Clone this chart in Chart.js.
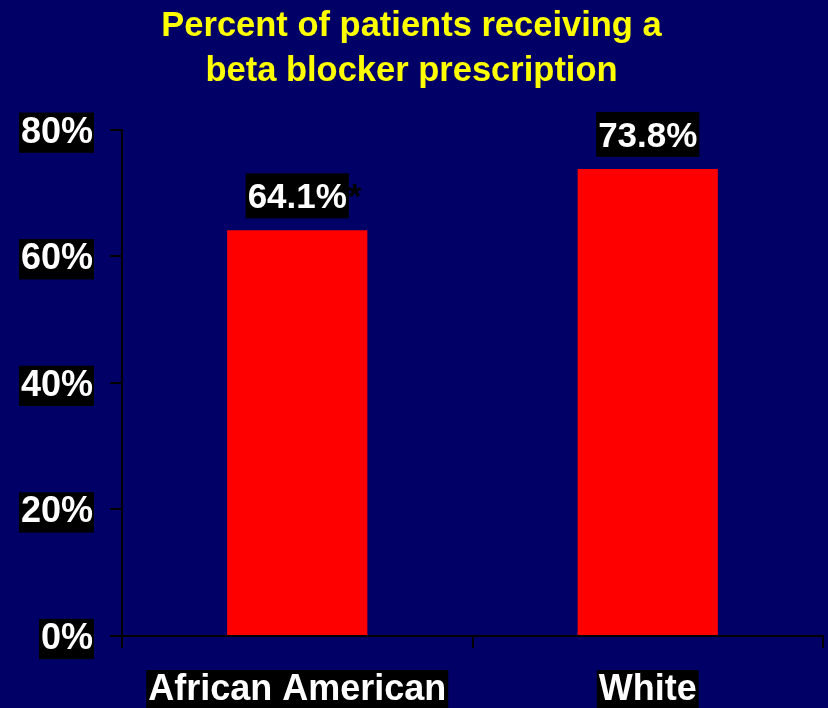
<!DOCTYPE html>
<html>
<head>
<meta charset="utf-8">
<script src="https://cdn.jsdelivr.net/npm/chart.js@4.4.1/dist/chart.umd.min.js"></script>
<style>
html, body { margin: 0; padding: 0; background: #000066; }
#wrap { width: 828px; height: 708px; position: relative; }
</style>
</head>
<body>
<div id="wrap"><canvas id="barChart"></canvas></div>
<script>
var categories = ['African American', 'White'];
var percents = [64.1, 73.8];
var significance = ['*', ''];
var yTicks = [0, 20, 40, 60, 80];
var titleLines = ['Percent of patients receiving a', 'beta blocker prescription'];

var FAMILY = '"Liberation Sans", Arial, sans-serif';
var labelFont = { family: FAMILY, size: 36, weight: 'bold', lineHeight: 1.12 };

function $id(id) { return document.getElementById(id); }

// black box with the white value above each bar
var valueBoxes = {
    id: 'valueBoxes',
    afterDatasetsDraw: function (chart) {
        var ctx = chart.ctx;
        var meta = chart.getDatasetMeta(0);
        ctx.save();
        ctx.font = 'bold 35px ' + FAMILY;
        ctx.textBaseline = 'alphabetic';
        meta.data.forEach(function (bar, i) {
            var txt = percents[i].toFixed(1) + '%';
            var w = ctx.measureText(txt).width + 4;
            var bottom = bar.y - 12;
            var h = 45;
            ctx.fillStyle = '#000';
            ctx.fillRect(bar.x - w / 2, bottom - h, w, h);
            ctx.textAlign = 'center';
            ctx.fillStyle = '#fff';
            ctx.fillText(txt, bar.x, bottom - 10);
            if (significance[i]) {
                ctx.textAlign = 'left';
                ctx.fillStyle = '#000';
                ctx.fillText(significance[i], bar.x + w / 2 - 1, bottom - 10);
            }
        });
        ctx.restore();
    }
};

var barCanvas = $id('barChart').getContext('2d');

var barChart = new Chart(barCanvas, {
    type: 'bar',
    data: {
        labels: categories,
        datasets: [{
            data: percents,
            backgroundColor: '#ff0000',
            borderWidth: 0,
            barPercentage: 0.4,
            categoryPercentage: 1.0
        }]
    },
    options: {
        responsive: true,
        maintainAspectRatio: false,
        animation: false,
        layout: { padding: { left: 0, right: 5, top: 0, bottom: 0 } },
        plugins: {
            legend: { display: false },
            tooltip: { enabled: false },
            title: {
                display: true,
                text: titleLines,
                color: '#ffff00',
                font: { family: FAMILY, size: 34.5, weight: 'bold', lineHeight: 1.3 },
                padding: { top: 4, bottom: 36 }
            }
        },
        scales: {
            x: {
                grid: {
                    display: true, drawOnChartArea: false, drawTicks: true,
                    tickLength: 12, color: '#000', lineWidth: 2, offset: true
                },
                border: { display: true, color: '#000', width: 2 },
                ticks: {
                    color: '#fff', font: labelFont, padding: 22,
                    showLabelBackdrop: true, backdropColor: '#000',
                    backdropPadding: { top: 0, bottom: 0, left: 2, right: 2 },
                    maxRotation: 0, autoSkip: false
                },
                afterFit: function (scale) { scale.height = 72; }
            },
            y: {
                min: 0,
                max: 80,
                afterBuildTicks: function (scale) {
                    scale.ticks = yTicks.map(function (v) { return { value: v }; });
                },
                grid: {
                    display: true, drawOnChartArea: false, drawTicks: true,
                    tickLength: 12, color: '#000', lineWidth: 2
                },
                border: { display: true, color: '#000', width: 2 },
                ticks: {
                    color: '#fff', font: labelFont, padding: 17, labelOffset: 3,
                    showLabelBackdrop: true, backdropColor: '#000',
                    backdropPadding: { top: 0, bottom: 0, left: 2, right: 1 },
                    callback: function (v) { return v + '%'; }
                },
                afterFit: function (scale) { scale.width = 122; }
            }
        }
    },
    plugins: [valueBoxes]
});
</script>
</body>
</html>
